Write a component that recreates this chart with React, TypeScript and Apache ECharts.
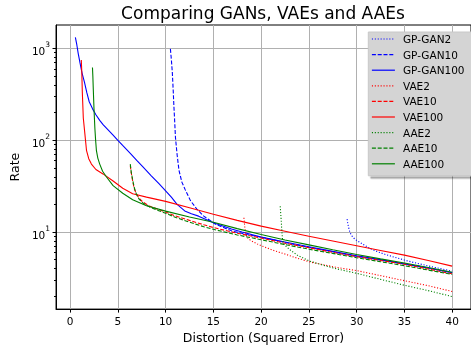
import React, { useEffect, useRef } from 'react';
import * as echarts from 'echarts';

const FONT = 'DejaVu Sans';

const xTicks = [0, 5, 10, 15, 20, 25, 30, 35, 40];
const yMajorTicks = [10, 100, 1000];
const yMinorTicks = [2, 3, 4, 5, 6, 7, 8, 9, 20, 30, 40, 50, 60, 70, 80, 90, 200, 300, 400, 500, 600, 700, 800, 900];

const titleText = 'Comparing GANs, VAEs and AAEs';
const xName = 'Distortion (Squared Error)';
const yName = 'Rate';

const seriesNames = ['GP-GAN2', 'GP-GAN10', 'GP-GAN100', 'VAE2', 'VAE10', 'VAE100', 'AAE2', 'AAE10', 'AAE100'];

const gpGan2X = [29.0, 29.05, 29.1, 29.2, 29.3, 29.5, 29.7, 30.0, 30.3, 30.8, 31.4, 32.2, 33.0, 34.0, 35.0, 36.0, 37.0, 38.0, 39.0, 40.0];
const gpGan2Y = [13.8, 12.8, 12.0, 10.8, 9.9, 9.1, 8.6, 8.1, 7.75, 7.2, 6.6, 6.1, 5.7, 5.3, 4.95, 4.65, 4.4, 4.15, 3.95, 3.75];

const gpGan10X = [10.5, 10.6, 10.7, 10.8, 10.86, 10.95, 11.03, 11.2, 11.4, 11.7, 12.06, 12.6, 13.3, 14.0, 15.2, 16.9, 18.5, 20, 22.5, 25, 27.5, 30, 32.5, 35, 37.5, 40];
const gpGan10Y = [990, 760, 550, 340, 242, 160, 107, 70, 47, 35, 28.8, 22, 17.6, 14.9, 12.2, 10.3, 9.4, 8.8, 7.7, 6.8, 6.1, 5.45, 4.95, 4.5, 4.05, 3.6];

const gpGan100X = [0.55, 0.7, 0.85, 1.03, 1.25, 1.5, 1.75, 2.0, 2.35, 2.7, 3.1, 3.45, 4.0, 4.5, 5.0, 5.5, 6.3, 7.0, 7.6, 8.5, 9.3, 10.0, 10.6, 11.2, 12.0, 12.7, 13.45, 15, 16.9, 18, 20, 22.5, 25, 27.5, 30, 32.5, 35, 37.5, 40];
const gpGan100Y = [1320, 1100, 880, 700, 540, 430, 330, 263, 220, 190, 165, 148, 129, 113.5, 100, 88, 72, 60, 51.6, 41, 33.6, 28.1, 24, 20, 17, 15.8, 14.9, 12.6, 10.8, 10.0, 8.8, 7.8, 6.9, 6.15, 5.5, 5.0, 4.5, 4.05, 3.6];

const vae2X = [18.2, 18.25, 18.3, 18.4, 18.5, 18.7, 19.0, 19.6, 20.3, 21.5, 22.5, 23.5, 25, 26.5, 28, 30, 32.5, 35, 37.5, 40];
const vae2Y = [14.3, 12.5, 11.0, 9.6, 8.9, 8.4, 8.0, 7.4, 6.9, 6.2, 5.75, 5.3, 4.75, 4.4, 4.1, 3.8, 3.35, 2.95, 2.6, 2.25];

const vae10X = [6.3, 6.4, 6.55, 6.7, 6.9, 7.2, 7.6, 8.3, 9.0, 10, 11, 12.5, 14, 15, 17.5, 20, 22.5, 25, 27.5, 30, 32.5, 35, 37.5, 40];
const vae10Y = [53, 44, 36, 30, 26.5, 23.5, 21.3, 19.2, 18, 16.5, 15.0, 13.4, 12.0, 11.2, 9.7, 8.6, 7.55, 6.75, 6.0, 5.4, 4.9, 4.45, 3.95, 3.5];

const vae100X = [1.17, 1.22, 1.28, 1.38, 1.55, 1.72, 1.95, 2.23, 2.7, 3.44, 4.5, 5.51, 6.55, 8, 10, 12.5, 15, 17.5, 20, 22.5, 25, 27.5, 30, 32.5, 35, 37.5, 40];
const vae100Y = [750, 560, 330, 175, 116, 77, 63, 55, 48, 43, 36, 30, 26.1, 24, 21.6, 18.4, 15.6, 13.4, 11.6, 10.2, 9.0, 8.0, 7.1, 6.3, 5.6, 4.9, 4.25];

const aae2X = [22.0, 22.05, 22.1, 22.15, 22.25, 22.4, 22.6, 23.1, 23.8, 25, 26.5, 28, 30, 32.5, 35, 37.5, 40];
const aae2Y = [19.1, 16, 13.5, 11, 8.1, 7.4, 7.0, 6.3, 5.6, 4.85, 4.35, 3.95, 3.55, 3.05, 2.63, 2.3, 1.98];

const aae10X = [6.3, 6.4, 6.55, 6.7, 6.9, 7.2, 7.6, 8.3, 9.0, 10, 11, 12.5, 14, 15, 17.5, 20, 22.5, 25, 27.5, 30, 32.5, 35, 37.5, 40];
const aae10Y = [55, 45, 37, 31, 26.5, 23, 20.8, 18.8, 17.5, 16.0, 14.5, 12.8, 11.4, 10.7, 9.3, 8.25, 7.3, 6.5, 5.85, 5.25, 4.75, 4.3, 3.85, 3.45];

const aae100X = [2.34, 2.38, 2.43, 2.5, 2.59, 2.67, 2.755, 2.9, 3.1, 3.4, 3.79, 4.5, 5.51, 6.55, 8, 10, 12.5, 15, 17.5, 20, 22.5, 25, 27.5, 30, 32.5, 35, 37.5, 40];
const aae100Y = [622, 500, 350, 220, 136, 100, 77, 64, 55, 46, 40, 32, 26.5, 22.5, 19.3, 16.9, 14.6, 12.8, 10.9, 9.4, 8.2, 7.25, 6.4, 5.7, 5.1, 4.6, 4.1, 3.65];

const seriesX = [gpGan2X, gpGan10X, gpGan100X, vae2X, vae10X, vae100X, aae2X, aae10X, aae100X];
const seriesY = [gpGan2Y, gpGan10Y, gpGan100Y, vae2Y, vae10Y, vae100Y, aae2Y, aae10Y, aae100Y];

const colors = ['#0000ff', '#0000ff', '#0000ff', '#ff0000', '#ff0000', '#ff0000', '#008000', '#008000', '#008000'];
const DOT = [1.1, 1.8];
const DASH = [4, 1.8];
const styles: any[] = [DOT, DASH, 'solid', DOT, DASH, 'solid', DOT, DASH, 'solid'];

const X_MIN = -1.475;
const X_MAX = 41.975;
const Y_MIN = 1.446;
const Y_MAX = 1804;

export default function App() {
  const ref = useRef<HTMLDivElement>(null);
  useEffect(() => {
    if (!ref.current) return;
    const chart = echarts.init(ref.current, null, { renderer: 'svg' });
    const series = seriesNames.map((name, i) => ({
      name,
      type: 'line',
      xAxisIndex: 0,
      yAxisIndex: 0,
      symbol: 'none',
      showSymbol: false,
      data: seriesX[i].map((x, j) => [x, seriesY[i][j]]),
      lineStyle: { color: colors[i], width: 1.1, type: styles[i] },
      itemStyle: { color: colors[i] },
      clip: true,
    }));
    chart.setOption({
      animation: false,
      textStyle: { fontFamily: FONT },
      graphic: [
        {
          type: 'text',
          x: 263,
          y: 12.6,
          style: {
            text: titleText,
            fontFamily: FONT,
            fontSize: 17,
            fill: '#000',
            textAlign: 'center',
            textVerticalAlign: 'middle',
          },
        },
      ],
      grid: {
        left: 52.3,
        top: 25,
        right: -1.5,
        bottom: 34,
        show: true,
        borderColor: '#000',
        borderWidth: 1,
        backgroundColor: 'transparent',
      },
      legend: {
        orient: 'vertical',
        left: 368.3,
        top: 32,
        padding: [1, 10, 6, 3],
        itemWidth: 23,
        itemHeight: 12,
        itemGap: 3.6,
        backgroundColor: '#d4d4d4',
        borderColor: '#c8c8c8',
        borderWidth: 1,
        borderRadius: 0,
        shadowColor: 'rgba(0,0,0,0.35)',
        shadowBlur: 1,
        shadowOffsetX: 2.5,
        shadowOffsetY: 2.5,
        itemStyle: { opacity: 0 },
        lineStyle: { width: 1.2 },
        textStyle: {
          fontFamily: FONT,
          fontSize: 10.5,
          color: '#000',
          lineHeight: 12,
          padding: [0, 0, 0, 3],
        },
        data: seriesNames,
      },
      xAxis: {
        type: 'value',
        min: X_MIN,
        max: X_MAX,
        name: xName,
        nameLocation: 'middle',
        nameGap: 20,
        nameTextStyle: { fontFamily: FONT, fontSize: 12.5, color: '#000' },
        axisLine: { show: true, onZero: false, lineStyle: { color: '#000', width: 1 } },
        axisTick: { show: true, length: 3.5, lineStyle: { color: '#000' }, customValues: xTicks },
        axisLabel: { fontFamily: FONT, fontSize: 10.5, color: '#000', margin: 6, customValues: xTicks },
        splitLine: { show: true, lineStyle: { color: '#b0b0b0', width: 1 } },
      },
      yAxis: [
        {
          type: 'log',
          logBase: 10,
          min: Y_MIN,
          max: Y_MAX,
          name: yName,
          nameLocation: 'middle',
          nameGap: 31,
          nameTextStyle: { fontFamily: FONT, fontSize: 12.5, color: '#000' },
          axisLine: { show: true, onZero: false, lineStyle: { color: '#000', width: 1 } },
          axisTick: { show: true, length: 3.5, lineStyle: { color: '#000' }, customValues: yMajorTicks },
          axisLabel: {
            margin: 6,
            customValues: yMajorTicks,
            formatter: (v: number) => `{b|10}{s|${Math.round(Math.log10(v))}}`,
            rich: {
              b: { fontFamily: FONT, fontSize: 10.5, color: '#000', lineHeight: 16, verticalAlign: 'bottom' },
              s: { fontFamily: FONT, fontSize: 7.5, color: '#000', lineHeight: 9, verticalAlign: 'top' },
            },
          },
          splitLine: { show: true, lineStyle: { color: '#b0b0b0', width: 1 } },
          minorTick: { show: false },
        },
        {
          type: 'log',
          logBase: 10,
          min: Y_MIN,
          max: Y_MAX,
          position: 'left',
          axisLine: { show: false, onZero: false },
          axisTick: { show: true, length: 2, lineStyle: { color: '#000' }, customValues: yMinorTicks },
          axisLabel: { show: false },
          splitLine: { show: false },
        },
      ],
      series,
    });
    return () => chart.dispose();
  }, []);
  return (
    <div
      ref={ref}
      style={{ position: 'fixed', left: 0, top: 0, width: 471, height: 349 }}
    />
  );
}
